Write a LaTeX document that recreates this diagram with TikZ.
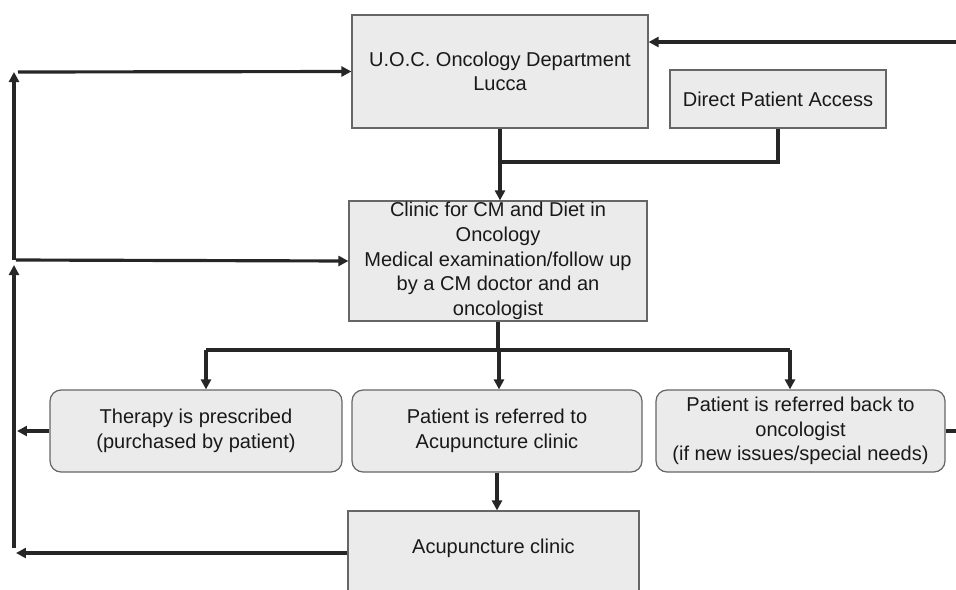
\documentclass[tikz,border=0pt]{standalone}
\usepackage{fontspec}
\setmainfont{Liberation Sans}
\usetikzlibrary{arrows.meta}

\begin{document}
\begin{tikzpicture}[x=0.02cm, y=-0.02cm,
    box/.style={draw=gray!80!black, line width=0.7pt, fill=black!8, align=center, inner sep=0pt,
      font=\fontsize{11.4}{14}\selectfont, text=black!90},
    rbox/.style={box, rounded corners=0.22cm},
    conn/.style={line width=1.8pt, draw=black!85},
    arr/.style={conn, -{Triangle[length=2mm, width=2mm]}}]
        \useasboundingbox (0,0) rectangle (956,589);

        % 上段のボックス
        \node[box, minimum width=5.92cm, minimum height=2.26cm] (uoc) at (500,71.5) {U.O.C. Oncology Department\\Lucca};
        \node[box, minimum width=4.32cm, minimum height=1.16cm] (direct) at (778,99) {Direct Patient Access};
        \node[box, minimum width=5.96cm, minimum height=2.4cm] (clinic) at (498,261)
          {Clinic for CM and Diet in\\Oncology\\Medical examination/follow up\\by a CM doctor and an\\oncologist};

        % 下段のボックス
        \node[rbox, minimum width=5.84cm, minimum height=1.64cm] (therapy) at (196,431) {Therapy is prescribed\\(purchased by patient)};
        \node[rbox, minimum width=5.8cm, minimum height=1.64cm] (referral) at (497,431) {Patient is referred to\\Acupuncture clinic};
        \node[rbox, minimum width=5.78cm, minimum height=1.64cm] (back) at (800.5,431)
          {Patient is referred back to\\oncologist\\(if new issues/special needs)};
        \node[box, minimum width=5.82cm, text height=0.84cm, text depth=1.34cm, anchor=base] (acu) at (493.5,553) {Acupuncture clinic};

        % 分岐点
        \coordinate (joinA) at (500,162);
        \coordinate (splitM) at (499,350);
        \coordinate (splitL) at (206,350);
        \coordinate (splitR) at (790,350);

        % 中央の流れ
        \draw[conn] (direct.south) |- (joinA);
        \draw[arr] (uoc.south) -- (uoc.south |- clinic.north);
        \draw[conn] (clinic.south) -- (clinic.south |- splitM);
        \draw[conn] (splitL) -- (splitR);
        \draw[arr] (splitL) -- (splitL |- therapy.north);
        \draw[arr] (splitM) -- (splitM |- referral.north);
        \draw[arr] (splitR) -- (splitR |- back.north);
        \draw[arr] (referral.south) -- (referral.south |- acu.north);

        % 左側の戻り線
        \coordinate (upTop) at (14,72);
        \coordinate (upBot) at (14,260);
        \coordinate (upStart) at (18,72);
        \coordinate (midStart) at (16,260);
        \coordinate (lowTop) at (14,265);
        \coordinate (lowBot) at (14,548);
        \coordinate (outT) at (17,431);
        \coordinate (outA) at (16,553);
        \draw[arr] (upBot) -- (upTop);
        \draw[arr] (upStart) -- (uoc.west);
        \draw[arr] (midStart) -- (clinic.west);
        \draw[arr] (lowBot) -- (lowTop);
        \draw[arr] (therapy.west) -- (outT);
        \draw[arr] (acu.base west) -- (outA);

        % 右側の線
        \coordinate (inR) at (956,42);
        \coordinate (outR) at (956,431);
        \draw[arr] (inR) -- (inR -| uoc.east);
        \draw[conn] (back.east) -- (outR);
\end{tikzpicture}
\end{document}
